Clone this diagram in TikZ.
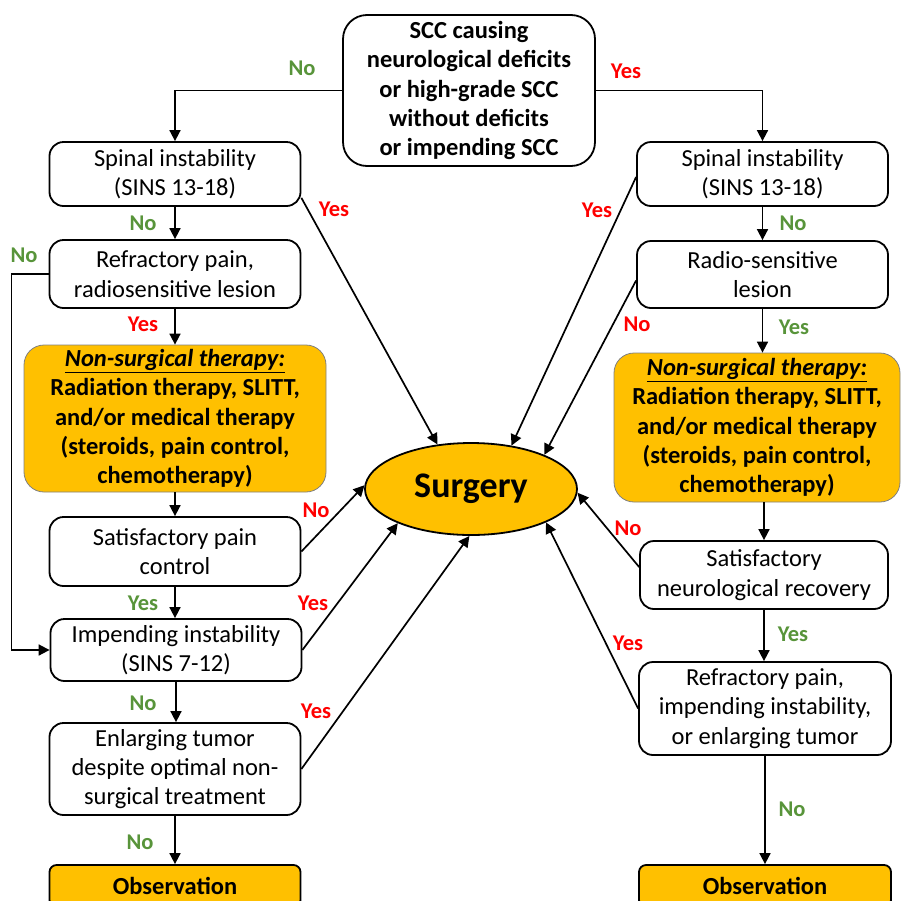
\documentclass[tikz,border=0pt]{standalone}
\usepackage{fontspec}
\setmainfont{Carlito}
\usetikzlibrary{positioning}
\usetikzlibrary{shapes}
\usetikzlibrary{arrows.meta}

\definecolor{surgorange}{RGB}{255,192,0}
\definecolor{tored}{RGB}{255,0,0}
\definecolor{awaygreen}{RGB}{88,148,58}

\tikzset{
  stepbox/.style={draw, line width=1.8pt, rounded corners=14pt, align=center,
    minimum width=251pt, inner sep=2pt, font=\fontsize{24.5}{29.4}\selectfont},
  therapybox/.style={draw=gray, line width=0.8pt, fill=surgorange, rounded corners=20pt,
    align=center, inner sep=2pt, font=\bfseries\fontsize{24.5}{29.4}\selectfont},
  obsbox/.style={draw, line width=1.8pt, fill=surgorange, rounded corners=7pt,
    minimum width=251pt, minimum height=42pt, font=\bfseries\fontsize{24.5}{29.4}\selectfont},
  lblred/.style={text=tored, font=\bfseries\fontsize{22.5}{27}\selectfont},
  lblgreen/.style={text=awaygreen, font=\bfseries\fontsize{22.5}{27}\selectfont},
  flow/.style={line width=1.7pt, -{Triangle[length=11pt,width=11pt]}},
}

\begin{document}
\begin{tikzpicture}[x=1pt,y=-1pt]
\useasboundingbox (0,0) rectangle (901,900);
\clip (0,0) rectangle (901,900);

%question
\node[stepbox, rounded corners=24pt, minimum width=252pt, minimum height=151pt, font=\bfseries\fontsize{24.5}{29.4}\selectfont] (top) at (469,90.5)
  {SCC causing\\neurological deficits\\or high-grade SCC\\without deficits\\or impending SCC};
%surgery
\node[ellipse, draw, line width=1.8pt, fill=surgorange, minimum width=212pt, minimum height=92pt, inner sep=0pt, font=\bfseries\fontsize{36}{40}\selectfont] (surg) at (471,489) {Surgery};

%left column
\node[stepbox, minimum height=64pt] (L1) at (175,174) {Spinal instability\\(SINS 13-18)};
\node[stepbox, minimum height=68pt] (L2) at (175,274) {Refractory pain,\\radiosensitive lesion};
\node[therapybox, minimum width=302pt, minimum height=147pt] (L3) at (175,418.5)
  {\underline{\textit{Non-surgical therapy:}}\\Radiation therapy, SLITT,\\and/or medical therapy\\(steroids, pain control,\\chemotherapy)};
\node[stepbox, minimum height=69pt] (L4) at (175,551.5) {Satisfactory pain\\control};
\node[stepbox, minimum height=62pt] (L5) at (176,650) {Impending instability\\(SINS 7-12)};
\node[stepbox, minimum height=92pt] (L6) at (175,769) {Enlarging tumor\\despite optimal non-\\surgical treatment};
\node[obsbox] (L7) at (175,886) {Observation};

%right column
\node[stepbox, minimum height=64pt] (R1) at (762.5,174) {Spinal instability\\(SINS 13-18)};
\node[stepbox, minimum height=67pt] (R2) at (762.5,274.5) {Radio-sensitive\\lesion};
\node[therapybox, minimum width=286pt, minimum height=149pt] (R3) at (757,427.5)
  {\underline{\textit{Non-surgical therapy:}}\\Radiation therapy, SLITT,\\and/or medical therapy\\(steroids, pain control,\\chemotherapy)};
\node[stepbox, minimum width=248pt, minimum height=68pt] (R4) at (764,575) {Satisfactory\\neurological recovery};
\node[stepbox, minimum width=252pt, minimum height=93pt] (R5) at (765,708.5) {Refractory pain,\\impending instability,\\or enlarging tumor};
\node[obsbox, minimum width=252pt] (R6) at (765,886) {Observation};

%arrows left
\draw[flow] (top.west) -| (L1.north);
\draw[flow] (L1.south) -- (L2.north);
\draw[flow] (L2.south) -- (L3.north);
\draw[flow] (L3.south) -- (L4.north);
\draw[flow] (L4.south) -- (L4.south |- L5.north);
\draw[flow] (L5.south) -- (L5.south |- L6.north);
\draw[flow] (L6.south) -- (L7.north);
\draw[flow] (L2.west) -- ++(-37,0) |- (L5.west);
\draw[flow] ([yshift=9pt]L1.south east) -- (surg.127);
\draw[flow] (L4.east) -- (surg.178);
\draw[flow] (L5.east) -- (surg.205);
\draw[flow] (L6.east) -- (surg.268);

%arrows right
\draw[flow] (top.east) -| (R1.north);
\draw[flow] (R1.south) -- (R2.north);
\draw[flow] (R2.south) -- (R2.south |- R3.north);
\draw[flow] (R3.south -| R4.north) -- (R4.north);
\draw[flow] (R4.south) -- (R4.south |- R5.north);
\draw[flow] (R5.south) -- (R6.north);
\draw[flow] ([yshift=-3pt]R1.west) -- (surg.47);
\draw[flow] ([yshift=-6pt]R2.west) -- (surg.25);
\draw[flow] ([yshift=8pt]R4.west) -- (surg.358);
\draw[flow] (R5.west) -- (surg.336);

%labels
\node[lblgreen] (n1) at (302,68) {No};
\node[lblred] (y1) at (626,71) {Yes};
\node[lblgreen] (n2) at (143,223) {No};
\node[lblred] (y2) at (334,209) {Yes};
\node[lblgreen] (n3) at (24,255) {No};
\node[lblred] (y3) at (143,324) {Yes};
\node[lblred] (n4) at (316,510) {No};
\node[lblgreen] (y4) at (143,603) {Yes};
\node[lblred] (y5) at (313,603) {Yes};
\node[lblgreen] (n5) at (143,703) {No};
\node[lblred] (y6) at (316,711) {Yes};
\node[lblgreen] (n6) at (140,842) {No};
\node[lblred] (y7) at (597,210) {Yes};
\node[lblgreen] (n7) at (793,223) {No};
\node[lblred] (n8) at (637,324) {No};
\node[lblgreen] (y8) at (794,327) {Yes};
\node[lblred] (n9) at (628,528) {No};
\node[lblgreen] (y9) at (793,634) {Yes};
\node[lblred] (y10) at (628,643) {Yes};
\node[lblgreen] (n10) at (792,809) {No};

\end{tikzpicture}
\end{document}
